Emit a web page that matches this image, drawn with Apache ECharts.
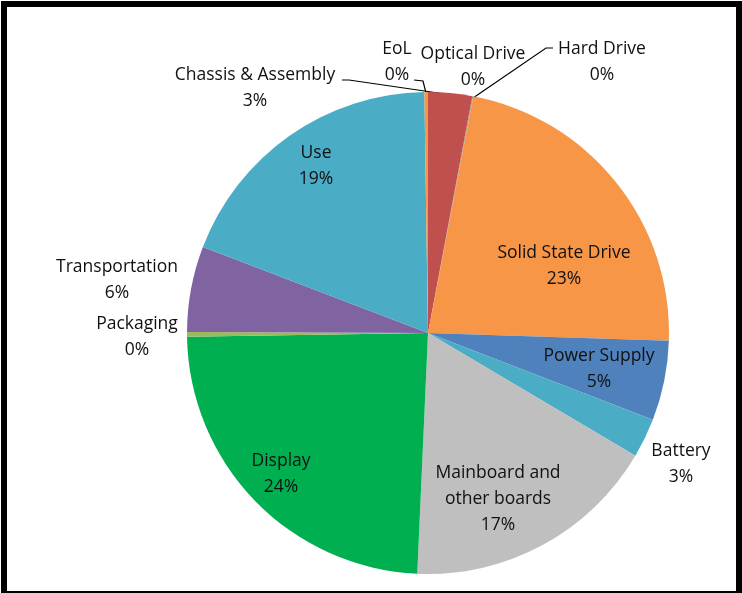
<!DOCTYPE html>
<html>
<head>
<meta charset="utf-8">
<script src="https://cdn.jsdelivr.net/npm/echarts@6/dist/echarts.min.js"></script>
<style>
html,body{margin:0;padding:0;background:#fff;}
#wrap{position:relative;width:742px;height:593px;overflow:hidden;}
#chart{position:absolute;left:0;top:0;width:742px;height:593px;}
#frame{position:absolute;left:1px;top:1px;width:729px;height:584px;border-top:6px solid #000;border-left:6px solid #000;border-right:6px solid #000;border-bottom:2px solid #000;pointer-events:none;}
</style>
</head>
<body>
<div id="wrap"><div id="chart"></div><div id="frame"></div></div>
<script>
// Data
const categories = ['Chassis & Assembly','Optical Drive','Hard Drive','Solid State Drive','Power Supply','Battery','Mainboard and other boards','Display','Packaging','Transportation','Use','EoL'];
const shares = [2.95, 0.03, 0.03, 22.5, 5.35, 2.65, 17.2, 24.05, 0.3, 5.75, 18.95, 0.24];

// Styling / layout (kept apart from data)
const colors = ['#C0504D','#8C8C8C','#7F7F7F','#F79646','#4F81BD','#4BACC6','#BFBFBF','#00B050','#9BBB59','#8064A2','#4BACC6','#F79646'];
const labelAnchors = [[255,88],[473,67],[602,62],[564,266],[599,369],[681,464],[498,499],[281,474],[137,337],[117,280],[316,166],[397,62]];
const leaderLines = {
  0: [[342,80],[349,80],[452,95]],
  2: [[553,48],[546,48],[473,98]],
  11: [[414,80],[423,81],[426,93]]
};

const chart = echarts.init(document.getElementById('chart'));
const data = categories.map((name, i) => ({
  name: name,
  value: shares[i],
  itemStyle: { color: colors[i] },
  labelLine: { show: leaderLines[i] !== undefined }
}));

chart.setOption({
  animation: false,
  series: [{
    type: 'pie',
    center: [428, 333],
    radius: [0, 241],
    startAngle: 90,
    clockwise: true,
    avoidLabelOverlap: false,
    minShowLabelAngle: 0,
    emphasis: { disabled: true },
    itemStyle: { borderWidth: 0 },
    label: {
      show: true,
      position: 'outside',
      fontFamily: 'Open Sans',
      fontSize: 17.5,
      lineHeight: 26,
      color: '#111111',
      align: 'center',
      formatter: function (p) {
        const nm = p.name === 'Mainboard and other boards' ? 'Mainboard and\nother boards' : p.name;
        return nm + '\n' + Math.round(p.percent) + '%';
      }
    },
    labelLine: {
      show: false,
      lineStyle: { color: '#000000', width: 1.2 }
    },
    labelLayout: function (params) {
      const i = params.dataIndex;
      const out = {
        x: labelAnchors[i][0],
        y: labelAnchors[i][1],
        align: 'center',
        verticalAlign: 'middle'
      };
      if (leaderLines[i]) out.labelLinePoints = leaderLines[i];
      return out;
    },
    data: data
  }]
});
</script>
</body>
</html>
